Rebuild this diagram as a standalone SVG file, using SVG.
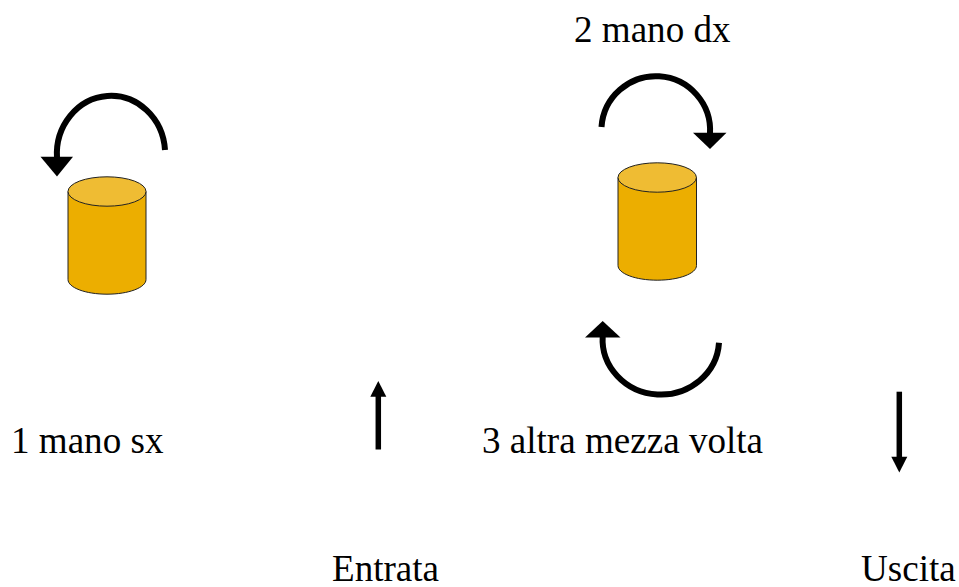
<svg xmlns="http://www.w3.org/2000/svg" width="959" height="587" viewBox="0 0 959 587">
<style>
.body{fill:#ecae00;stroke:#222;stroke-width:1}
.top{fill:#efbc33;stroke:#222;stroke-width:1}
.arc{fill:none;stroke:#000;stroke-width:6}
.ln{fill:none;stroke:#000;stroke-width:5.5}
.hd{fill:#000}
text{font-family:"Liberation Serif","Times New Roman",serif;font-size:37.100px;fill:#000}
</style>
<rect width="959" height="587" fill="#fff"/>
<g id="cylinder-left">
<path class="body" d="M68 191.500V279.500C68 287.600 85.400 294.200 107 294.200S146 287.600 146 279.500V191.500Z"/>
<ellipse class="top" cx="107" cy="191.500" rx="39" ry="14.700"/>
</g>
<g id="cylinder-right">
<path class="body" d="M618 177.500V265.500C618 273.600 635.500 280.200 657.200 280.200S696.500 273.600 696.500 265.500V177.500Z"/>
<ellipse class="top" cx="657.200" cy="177.500" rx="39.200" ry="14.700"/>
</g>
<g id="connectors">
<path class="arc" d="M165 150A54 58 0 0 0 57 158"/>
<polygon class="hd" points="40.500,156.700 73,156.700 57,176.500"/>
<path class="arc" d="M601.500 127A54 54 0 0 1 710 134"/>
<polygon class="hd" points="693,132.700 726.500,132.700 710,149"/>
<path class="arc" d="M719 342.700A58 55 0 0 1 602.700 336"/>
<polygon class="hd" points="585,337.500 620.500,337.500 602.700,321"/>
<path class="ln" d="M378.300 449.500V395"/>
<polygon class="hd" points="370.300,396.700 386.300,396.700 378.300,381"/>
<path class="ln" d="M899.300 391.700V458"/>
<polygon class="hd" points="891.300,456.700 907.300,456.700 899.300,472.500"/>
</g>
<g id="labels">
<text x="574" y="41.700">2 mano dx</text>
<text x="11" y="452.500">1 mano sx</text>
<text x="482" y="452.500">3 altra mezza volta</text>
<text x="332" y="581">Entrata</text>
<text x="861" y="581">Uscita</text>
</g>
</svg>
